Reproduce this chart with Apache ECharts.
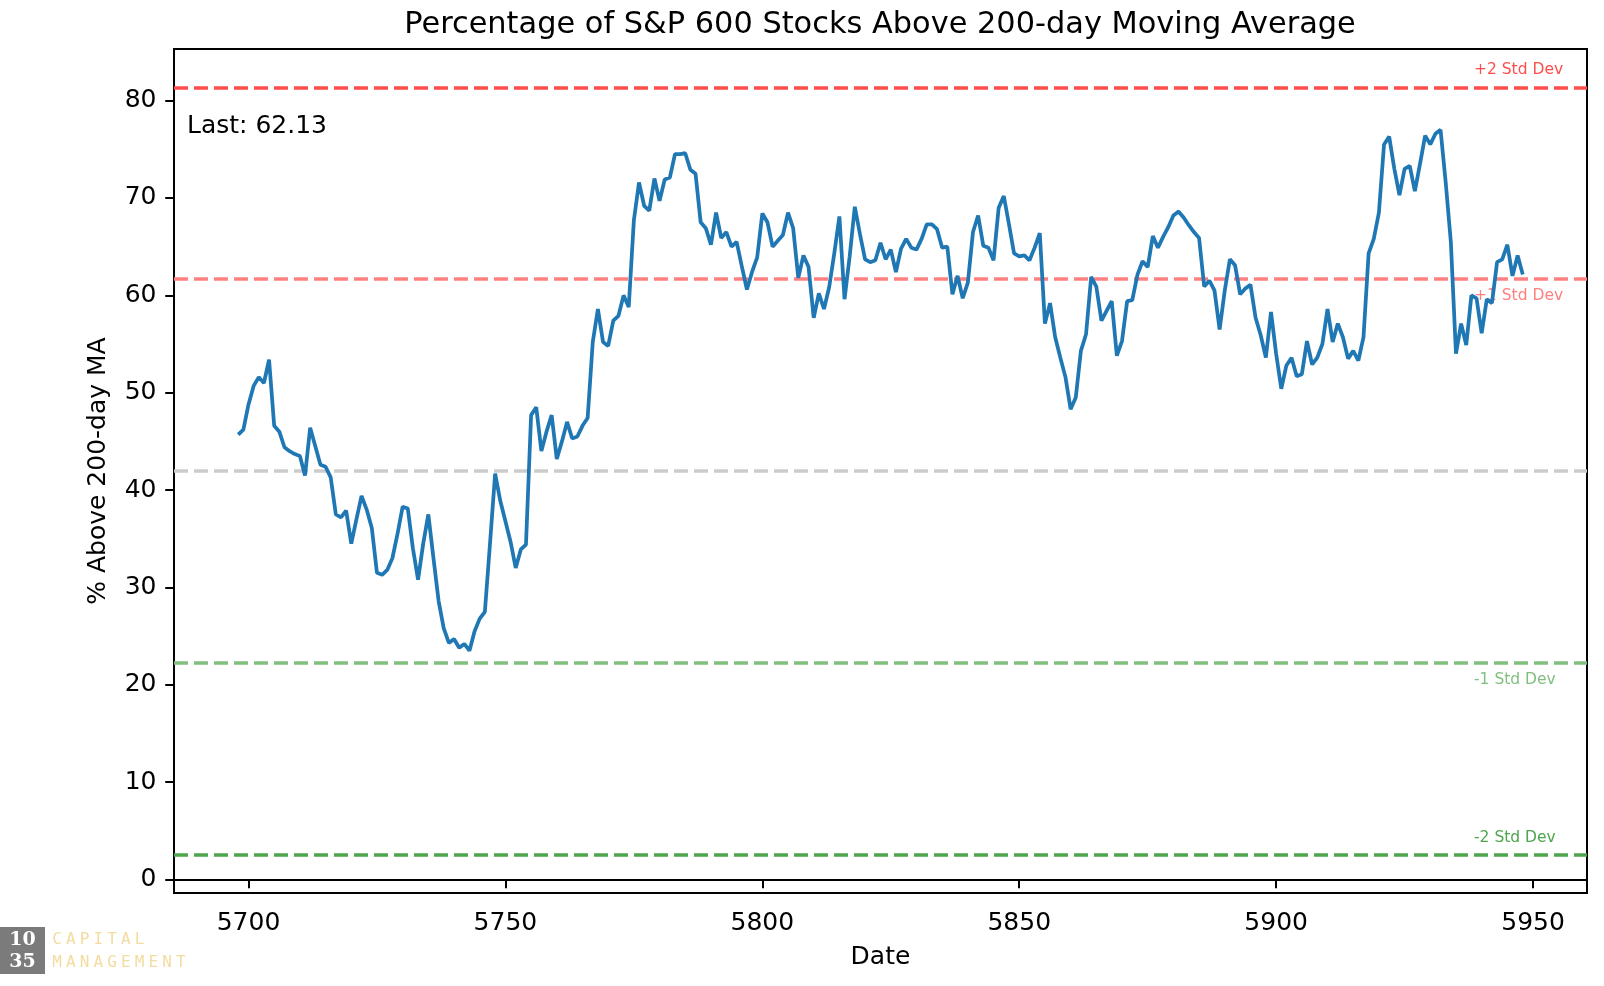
<!DOCTYPE html>
<html><head><meta charset="utf-8">
<script src="https://cdn.jsdelivr.net/npm/echarts@6/dist/echarts.min.js"></script>
<style>html,body{margin:0;padding:0;background:#fff}#c{width:1604px;height:986px}</style>
</head><body><div id="c"></div>
<script>
// ---- data ----
const days = [
5698,5699,5700,5701,5702,5703,5704,5705,5706,5707,5708,5709,5710,5711,5712,5713,5714,5715,5716,5717,
5718,5719,5720,5721,5722,5723,5724,5725,5726,5727,5728,5729,5730,5731,5732,5733,5734,5735,5736,5737,
5738,5739,5740,5741,5742,5743,5744,5745,5746,5747,5748,5749,5750,5751,5752,5753,5754,5755,5756,5757,
5758,5759,5760,5761,5762,5763,5764,5765,5766,5767,5768,5769,5770,5771,5772,5773,5774,5775,5776,5777,
5778,5779,5780,5781,5782,5783,5784,5785,5786,5787,5788,5789,5790,5791,5792,5793,5794,5795,5796,5797,
5798,5799,5800,5801,5802,5803,5804,5805,5806,5807,5808,5809,5810,5811,5812,5813,5814,5815,5816,5817,
5818,5819,5820,5821,5822,5823,5824,5825,5826,5827,5828,5829,5830,5831,5832,5833,5834,5835,5836,5837,
5838,5839,5840,5841,5842,5843,5844,5845,5846,5847,5848,5849,5850,5851,5852,5853,5854,5855,5856,5857,
5858,5859,5860,5861,5862,5863,5864,5865,5866,5867,5868,5869,5870,5871,5872,5873,5874,5875,5876,5877,
5878,5879,5880,5881,5882,5883,5884,5885,5886,5887,5888,5889,5890,5891,5892,5893,5894,5895,5896,5897,
5898,5899,5900,5901,5902,5903,5904,5905,5906,5907,5908,5909,5910,5911,5912,5913,5914,5915,5916,5917,
5918,5919,5920,5921,5922,5923,5924,5925,5926,5927,5928,5929,5930,5931,5932,5933,5934,5935,5936,5937,
5938,5939,5940,5941,5942,5943,5944,5945,5946,5947,5948
];
const pctAbove = [
45.7,46.2,48.8,50.7,51.6,51.0,53.4,46.6,46.0,44.4,44.0,43.7,43.5,41.5,46.4,44.5,42.6,42.4,41.3,37.5,
37.2,37.9,34.5,37.0,39.4,38.0,36.1,31.5,31.3,31.8,33.0,35.5,38.3,38.1,34.0,30.8,34.5,37.5,33.0,28.6,
25.8,24.3,24.7,23.8,24.2,23.5,25.5,26.8,27.5,34.5,41.7,38.9,36.8,34.7,32.0,33.9,34.4,47.7,48.5,44.0,
46.0,47.7,43.2,45.0,47.0,45.3,45.5,46.6,47.4,55.2,58.6,55.2,54.8,57.4,57.9,60.0,58.8,67.7,71.6,69.2,
68.7,72.0,69.7,71.9,72.1,74.5,74.5,74.6,72.9,72.5,67.5,66.9,65.2,68.5,65.9,66.5,65.0,65.5,63.0,60.6,
62.4,63.9,68.4,67.5,65.0,65.6,66.2,68.5,66.9,61.8,64.1,62.9,57.7,60.2,58.6,60.8,64.3,68.1,59.6,64.0,
69.1,66.3,63.7,63.4,63.6,65.4,63.7,64.7,62.4,64.8,65.8,64.9,64.7,65.8,67.3,67.3,66.8,64.9,65.0,60.1,
62.0,59.7,61.3,66.5,68.2,65.1,64.9,63.6,69.0,70.2,67.3,64.3,64.0,64.1,63.6,64.9,66.4,57.1,59.2,55.7,
53.6,51.6,48.3,49.5,54.3,56.0,61.9,60.9,57.4,58.4,59.4,53.8,55.3,59.4,59.5,62.1,63.5,62.9,66.1,64.9,
66.0,67.0,68.2,68.6,68.0,67.2,66.5,65.9,60.9,61.5,60.5,56.5,60.5,63.7,63.1,60.1,60.7,61.1,57.7,55.9,
53.6,58.3,54.0,50.4,52.8,53.6,51.7,51.9,55.3,52.9,53.6,55.0,58.6,55.2,57.1,55.7,53.5,54.3,53.3,55.7,
64.3,65.8,68.5,75.5,76.3,73.0,70.3,73.0,73.3,70.7,73.5,76.4,75.5,76.6,77.0,71.6,65.5,54.0,57.1,54.9,
60.0,59.7,56.1,59.6,59.2,63.4,63.7,65.2,62.0,64.1,62.13
];
const xTicks = [5700,5750,5800,5850,5900,5950];
const yTicks = [0,10,20,30,40,50,60,70,80];
const meanValue = 41.96;
const bandNames = ['+2 Std Dev','+1 Std Dev','-1 Std Dev','-2 Std Dev'];
const bandValues = [81.36, 61.66, 22.26, 2.56];
const lastValue = 62.13;

// ---- styles ----
const FONT = 'DejaVu Sans';
const bandColors = ['#ff4d4d', '#ff8080', '#80bf80', '#4da64d'];
const bandLabelPos = ['insideEndTop', 'insideEndBottom', 'insideEndBottom', 'insideEndTop'];

const chart = echarts.init(document.getElementById('c'), null, {renderer: 'canvas'});

const markData = [{
  yAxis: meanValue,
  lineStyle: {color: '#cccccc', type: [14, 6], width: 3.5},
  label: {show: false}
}];
bandValues.forEach((v, i) => {
  markData.push({
    yAxis: v,
    lineStyle: {color: bandColors[i], type: [14, 6], width: 3.5},
    label: {
      show: true, formatter: bandNames[i], position: bandLabelPos[i], align: 'left',
      color: bandColors[i], fontSize: 15.5, fontFamily: FONT, distance: [113, 9]
    }
  });
});

const logoChildren = [
  {type: 'rect', shape: {x: 0, y: 927, width: 45, height: 47}, style: {fill: '#7b7b7b'}},
  {type: 'text', x: 22.5, y: 940, style: {text: '10', fill: '#fff', font: 'bold 19px "DejaVu Serif"', align: 'center', verticalAlign: 'middle'}},
  {type: 'text', x: 22.5, y: 962, style: {text: '35', fill: '#fff', font: 'bold 19px "DejaVu Serif"', align: 'center', verticalAlign: 'middle'}}
];
['CAPITAL', 'MANAGEMENT'].forEach((word, row) => {
  word.split('').forEach((ch, k) => {
    logoChildren.push({type: 'text', x: 57 + k * 13.75, y: 940 + row * 23,
      style: {text: ch, fill: '#f3dca0', font: '16px "DejaVu Sans Mono"', align: 'center', verticalAlign: 'middle'}});
  });
});

chart.setOption({
  animation: false,
  backgroundColor: '#ffffff',
  grid: {left: 174, right: 17, top: 49, bottom: 93, show: true, borderColor: '#000', borderWidth: 2, backgroundColor: 'transparent'},
  xAxis: {
    type: 'value', min: 5685.5, max: 5960.5,
    name: 'Date', nameLocation: 'middle', nameGap: 52,
    nameTextStyle: {color: '#000', fontSize: 25, fontFamily: FONT},
    axisLine: {show: true, lineStyle: {color: '#000', width: 2}},
    axisTick: {show: true, length: 8.75, lineStyle: {color: '#000', width: 2}, customValues: xTicks},
    axisLabel: {color: '#000', fontSize: 25, fontFamily: FONT, margin: 17.5, customValues: xTicks,
      formatter: v => String(Math.round(v))},
    splitLine: {show: false}
  },
  yAxis: {
    type: 'value', min: -1.38, max: 85.3,
    name: '% Above 200-day MA', nameLocation: 'middle', nameGap: 63,
    nameTextStyle: {color: '#000', fontSize: 25, fontFamily: FONT},
    axisLine: {show: true, lineStyle: {color: '#000', width: 2}},
    axisTick: {show: true, length: 8.75, lineStyle: {color: '#000', width: 2}, customValues: yTicks},
    axisLabel: {color: '#000', fontSize: 25, fontFamily: FONT, margin: 17.5, customValues: yTicks,
      formatter: v => String(Math.round(v))},
    splitLine: {show: false}
  },
  series: [{
    type: 'line',
    data: days.map((d, i) => [d, pctAbove[i]]),
    showSymbol: false,
    lineStyle: {color: '#1f77b4', width: 3.75},
    z: 3,
    markLine: {silent: true, symbol: 'none', data: markData, z: 2}
  }],
  graphic: [
    {type: 'text', x: 880, y: 25, style: {text: 'Percentage of S&P 600 Stocks Above 200-day Moving Average', fill: '#000', font: '30.4px "DejaVu Sans"', align: 'center', verticalAlign: 'middle'}},
    {type: 'text', x: 187, y: 126, style: {text: 'Last: ' + lastValue.toFixed(2), fill: '#000', font: '25px "DejaVu Sans"', align: 'left', verticalAlign: 'middle'}},
    {type: 'group', children: logoChildren}
  ]
});
</script>
</body></html>
